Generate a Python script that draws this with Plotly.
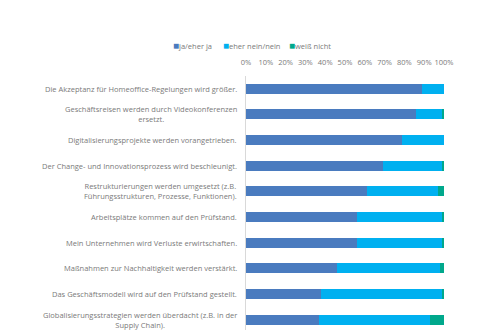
import plotly.graph_objects as go

categories = [
    "Die Akzeptanz für Homeoffice-Regelungen wird größer.",
    "Geschäftsreisen werden durch Videokonferenzen<br>ersetzt.",
    "Digitalisierungsprojekte werden vorangetrieben.",
    "Der Change- und Innovationsprozess wird beschleunigt.",
    "Restrukturierungen werden umgesetzt (z.B.<br>Führungsstrukturen, Prozesse, Funktionen).",
    "Arbeitsplätze kommen auf den Prüfstand.",
    "Mein Unternehmen wird Verluste erwirtschaften.",
    "Maßnahmen zur Nachhaltigkeit werden verstärkt.",
    "Das Geschäftsmodell wird auf den Prüfstand gestellt.",
    "Globalisierungsstrategien werden überdacht (z.B. in der<br>Supply Chain).",
]
ja = [89, 86, 79, 69, 61, 56, 56, 46, 38, 37]
nein = [11, 13, 21, 30, 36, 43, 43, 52, 61, 56]
weiss = [0, 1, 0, 1, 3, 1, 1, 2, 1, 7]
series_names = ["ja/eher ja", "eher nein/nein", "weiß nicht"]
colors = ["#4a7bbf", "#00b0f0", "#00a88c"]
tick_vals = list(range(0, 101, 10))
tick_text = [f"{v}%" for v in tick_vals]

TEXT = "#7a7a7a"
FONT = "Open Sans"
FS = 7.5

ypos = list(range(len(categories)))

fig = go.Figure()
for name, vals, col in zip(series_names, [ja, nein, weiss], colors):
    fig.add_trace(go.Bar(
        y=ypos, x=vals, name=name, orientation="h",
        marker=dict(color=col, line=dict(width=0)),
        width=0.39, showlegend=False,
    ))

# category labels, right-aligned to the axis, lines centred within each label
for i, label in enumerate(categories):
    fig.add_annotation(
        x=0, xref="paper", y=i, yref="y", text=label,
        xanchor="right", yanchor="middle", align="center",
        xshift=-7, showarrow=False,
        font=dict(family=FONT, size=FS, color=TEXT),
    )

# compact legend row above the axis
legend_x = [-0.381, -0.125, 0.205]
for name, col, lx in zip(series_names, colors, legend_x):
    fig.add_annotation(
        x=lx, xref="paper", y=1.122, yref="paper",
        text=f"<span style='color:{col};font-size:10px'>■</span>{name}",
        xanchor="left", yanchor="middle", showarrow=False,
        font=dict(family=FONT, size=FS, color=TEXT),
    )

fig.update_layout(
    width=500, height=330,
    margin=dict(l=246, r=56, t=76, b=0),
    barmode="stack",
    plot_bgcolor="white", paper_bgcolor="white",
    font=dict(family=FONT, size=FS, color=TEXT),
    showlegend=False,
    xaxis=dict(
        side="top", range=[0, 100], tickvals=tick_vals, ticktext=tick_text,
        showgrid=False, zeroline=False, showline=False,
        ticks="outside", ticklen=7, tickcolor="rgba(0,0,0,0)",
        tickfont=dict(family=FONT, size=FS, color=TEXT),
    ),
    yaxis=dict(
        range=[9.4, -0.5], showticklabels=False, showgrid=False,
        zeroline=False, showline=True, linecolor="#d9d9d9", linewidth=1,
        ticks="",
    ),
    bargap=0,
)

fig.write_html("out.html")
